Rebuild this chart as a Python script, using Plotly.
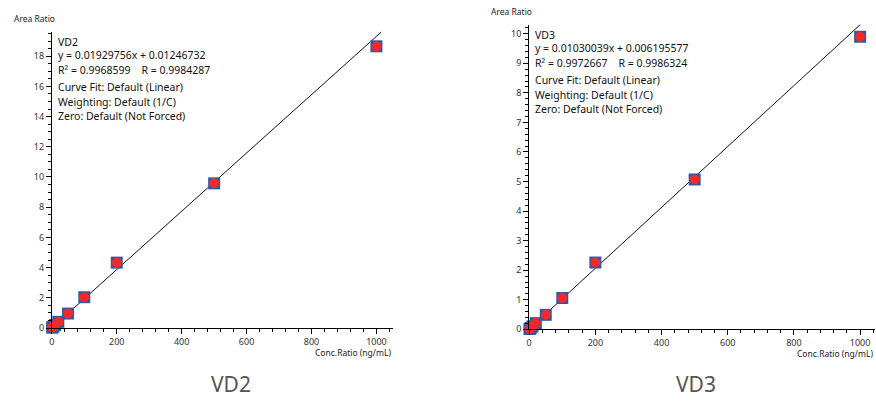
import plotly.graph_objects as go

# ---- data ----
conc = [1, 2, 5, 10, 20, 50, 100, 200, 500, 1000]
vd2_ratio = [0.03, 0.05, 0.10, 0.20, 0.41, 0.96, 2.04, 4.33, 9.58, 18.65]
vd3_ratio = [0.01, 0.02, 0.05, 0.10, 0.21, 0.49, 1.06, 2.26, 5.07, 9.90]
vd2_slope, vd2_icpt = 0.01929756, 0.01246732
vd3_slope, vd3_icpt = 0.01030039, 0.006195577
fit_x = [0, 1015]

vd2_text = ["VD2", "y = 0.01929756x + 0.01246732", "R² = 0.9968599    R = 0.9984287",
            "Curve Fit: Default (Linear)", "Weighting: Default (1/C)", "Zero: Default (Not Forced)"]
vd3_text = ["VD3", "y = 0.01030039x + 0.006195577", "R² = 0.9972667    R = 0.9986324",
            "Curve Fit: Default (Linear)", "Weighting: Default (1/C)", "Zero: Default (Not Forced)"]

W, H = 876, 403
FONT = "Noto Sans"
BLUE = "#2c5aa6"
RED = "#ee2a2c"

fig = go.Figure()

panels = [
    dict(ratio=vd2_ratio, slope=vd2_slope, icpt=vd2_icpt, text=vd2_text, title="VD2",
         xa="x", ya="y", xdom=(49, 391), ydom=(32, 333), yrange=19.63, ydt=2, ymin=0.5),
    dict(ratio=vd3_ratio, slope=vd3_slope, icpt=vd3_icpt, text=vd3_text, title="VD3",
         xa="x2", ya="y2", xdom=(528, 875), ydom=(25, 334.3), yrange=10.31, ydt=1, ymin=0.2),
]

for i, p in enumerate(panels):
    fy = [p["slope"] * x + p["icpt"] for x in fit_x]
    fig.add_trace(go.Scatter(x=fit_x, y=fy, mode="lines", line=dict(color="#111", width=1),
                             xaxis=p["xa"], yaxis=p["ya"], showlegend=False, hoverinfo="skip",
                             cliponaxis=False))
    fig.add_trace(go.Scatter(x=conc, y=p["ratio"], mode="markers",
                             marker=dict(symbol="square", size=12, color=BLUE, line=dict(width=0)),
                             xaxis=p["xa"], yaxis=p["ya"], showlegend=False, cliponaxis=False))
    fig.add_trace(go.Scatter(x=conc, y=p["ratio"], mode="markers",
                             marker=dict(symbol="circle", size=10, color=RED, line=dict(width=0)),
                             xaxis=p["xa"], yaxis=p["ya"], showlegend=False, cliponaxis=False))

    sfx = "" if i == 0 else str(i + 1)
    x0, x1 = p["xdom"]
    y0, y1 = p["ydom"]
    axis_common = dict(showgrid=False, zeroline=False, showline=True, linecolor="#000",
                       linewidth=1, ticks="outside", ticklen=5, tickwidth=1, tickcolor="#000",
                       tickfont=dict(family=FONT, size=9, color="#333"))
    fig.layout["xaxis" + sfx] = dict(domain=[x0 / W, x1 / W], range=[0, 1050 if i == 0 else 1045],
                                     dtick=200, tick0=0, anchor="y" + sfx,
                                     minor=dict(dtick=40, ticks="outside", ticklen=3,
                                                tickcolor="#000", tickwidth=1),
                                     **axis_common)
    fig.layout["yaxis" + sfx] = dict(domain=[1 - y1 / H, 1 - y0 / H], range=[0, p["yrange"]],
                                     dtick=p["ydt"], tick0=0, anchor="x" + sfx,
                                     minor=dict(dtick=p["ymin"], ticks="outside", ticklen=3,
                                                tickcolor="#000", tickwidth=1),
                                     **axis_common)

    # fit info text
    ys = [0, 14, 29, 46, 61, 76]
    for t, dy in zip(p["text"], ys):
        fig.add_annotation(text=t, xref="paper", yref="paper", x=(x0 + 4) / W,
                           y=1 - (y0 + 1 + dy) / H, xanchor="left", yanchor="top",
                           showarrow=False, font=dict(family=FONT, size=10.5, color="#111"))
    # axis titles
    fig.add_annotation(text="Area Ratio", xref="paper", yref="paper", x=(x0 - 40) / W,
                       y=1 - (y0 - 6) / H, xanchor="left", yanchor="bottom", showarrow=False,
                       font=dict(family=FONT, size=8.5, color="#222"))
    fig.add_annotation(text="Conc.Ratio (ng/mL)", xref="paper", yref="paper", x=x1 / W,
                       y=1 - (y1 + 17) / H, xanchor="right", yanchor="top", showarrow=False,
                       font=dict(family=FONT, size=8.5, color="#222"))
    # bottom caption
    fig.add_annotation(text=p["title"], xref="paper", yref="paper",
                       x=(229 if i == 0 else 695) / W, y=1 - 390 / H,
                       xanchor="center", yanchor="middle", showarrow=False,
                       font=dict(family=FONT, size=21, color="#555"))

fig.update_layout(width=W, height=H, margin=dict(l=0, r=0, t=0, b=0), autosize=False,
                  paper_bgcolor="white", plot_bgcolor="white")

fig.write_html("out.html",
               config={"displayModeBar": False, "responsive": False},
               default_width="876px", default_height="403px",
               post_script=("document.documentElement.style.overflow='hidden';"
                            "document.body.style.margin='0';"
                            "document.body.style.padding='0';"
                            "document.body.style.overflow='hidden';"))
